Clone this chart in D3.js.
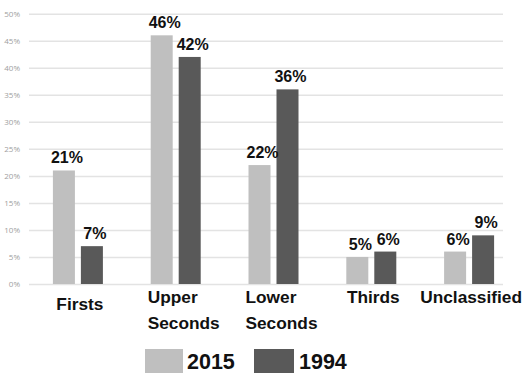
<!DOCTYPE html>
<html>
<head>
<meta charset="utf-8">
<script src="https://cdn.jsdelivr.net/npm/d3@7"></script>
<style>
  html, body { margin: 0; padding: 0; background: #fff; }
  svg { display: block; }
</style>
</head>
<body>
<div id="chart"></div>
<script>
// data
const categories = ["Firsts", "Upper Seconds", "Lower Seconds", "Thirds", "Unclassified"];
const seriesNames = ["2015", "1994"];
const values2015 = [21, 46, 22, 5, 6];
const values1994 = [7, 42, 36, 6, 9];
const yTicks = [0, 5, 10, 15, 20, 25, 30, 35, 40, 45, 50];

const color = d3.scaleOrdinal()
  .domain(seriesNames)
  .range(["#bfbfbf", "#595959"]);

const width = 532, height = 388;
const plot = { left: 29, right: 518, top: 13.7, bottom: 284 };
const gridRight = 503;

const svg = d3.select("#chart").append("svg")
  .attr("width", width)
  .attr("height", height)
  .style("font-family", "'Liberation Sans', Arial, sans-serif");

const x0 = d3.scaleBand()
  .domain(categories)
  .range([plot.left, plot.right])
  .padding(0);

// pair of bars, 22px wide with a 6px gap, centred in each band
const x1 = d3.scaleBand()
  .domain(seriesNames)
  .range([-25, 25])
  .paddingInner(0.214)
  .paddingOuter(0);

const y = d3.scaleLinear()
  .domain([0, 50])
  .range([plot.bottom, plot.top]);

// gridlines + tick labels
const yAxis = svg.append("g")
  .attr("transform", `translate(${plot.left},0)`)
  .call(d3.axisLeft(y)
    .tickValues(yTicks)
    .tickSize(-(gridRight - plot.left))
    .tickPadding(9)
    .tickFormat(d => d + "%"));
yAxis.select(".domain").remove();
yAxis.selectAll(".tick line")
  .attr("stroke", "#e3e3e3")
  .attr("stroke-width", 1.5);
yAxis.selectAll(".tick text")
  .attr("fill", "#a0a0a0")
  .style("font-family", "'Open Sans', 'DejaVu Sans', sans-serif")
  .style("font-size", "8px");

const rows = categories.map((c, i) => ({
  category: c,
  values: [
    { key: "2015", value: values2015[i] },
    { key: "1994", value: values1994[i] }
  ]
}));

const groups = svg.selectAll(".group")
  .data(rows)
  .join("g")
  .attr("class", "group")
  .attr("transform", d => `translate(${x0(d.category) + x0.bandwidth() / 2},0)`);

groups.selectAll("rect")
  .data(d => d.values)
  .join("rect")
  .attr("x", d => x1(d.key))
  .attr("width", x1.bandwidth())
  .attr("y", d => y(d.value))
  .attr("height", d => y(0) - y(d.value))
  .attr("fill", d => color(d.key));

groups.selectAll(".value")
  .data(d => d.values)
  .join("text")
  .attr("class", "value")
  .attr("x", d => x1(d.key) + x1.bandwidth() / 2 + 3)
  .attr("y", d => y(d.value) - 7)
  .attr("text-anchor", "middle")
  .style("font-size", "16px")
  .style("font-weight", "bold")
  .attr("fill", "#111")
  .text(d => d.value + "%");

// category labels, wrapped onto two lines, lines left aligned
groups.each(function (d, i) {
  const g = d3.select(this);
  const words = d.category.split(" ");
  const t = g.append("text")
    .style("font-size", "17.3px")
    .style("font-weight", "bold")
    .attr("fill", "#111");
  words.forEach((w, j) => {
    t.append("tspan")
      .attr("x", 0)
      .attr("y", 303 + j * 26 + (i === 0 ? 7 : 0))
      .text(w);
  });
  if (words.length > 1) {
    const maxW = d3.max(t.selectAll("tspan").nodes(), n => n.getComputedTextLength());
    t.attr("text-anchor", "start");
    t.selectAll("tspan").attr("x", 8 - maxW / 2);
  } else {
    t.attr("text-anchor", "middle");
    t.selectAll("tspan").attr("x", 2);
  }
});

// legend
const legendX = [145, 254];
const legend = svg.append("g");
seriesNames.forEach((s, i) => {
  const g = legend.append("g")
    .attr("transform", `translate(${legendX[i]},349)`);
  g.append("rect")
    .attr("width", i === 0 ? 38 : 40)
    .attr("height", 24)
    .attr("fill", color(s));
  g.append("text")
    .attr("x", i === 0 ? 42 : 45)
    .attr("y", 20)
    .style("font-size", "21.5px")
    .style("font-weight", "bold")
    .attr("fill", "#111")
    .text(s);
});
</script>
</body>
</html>
